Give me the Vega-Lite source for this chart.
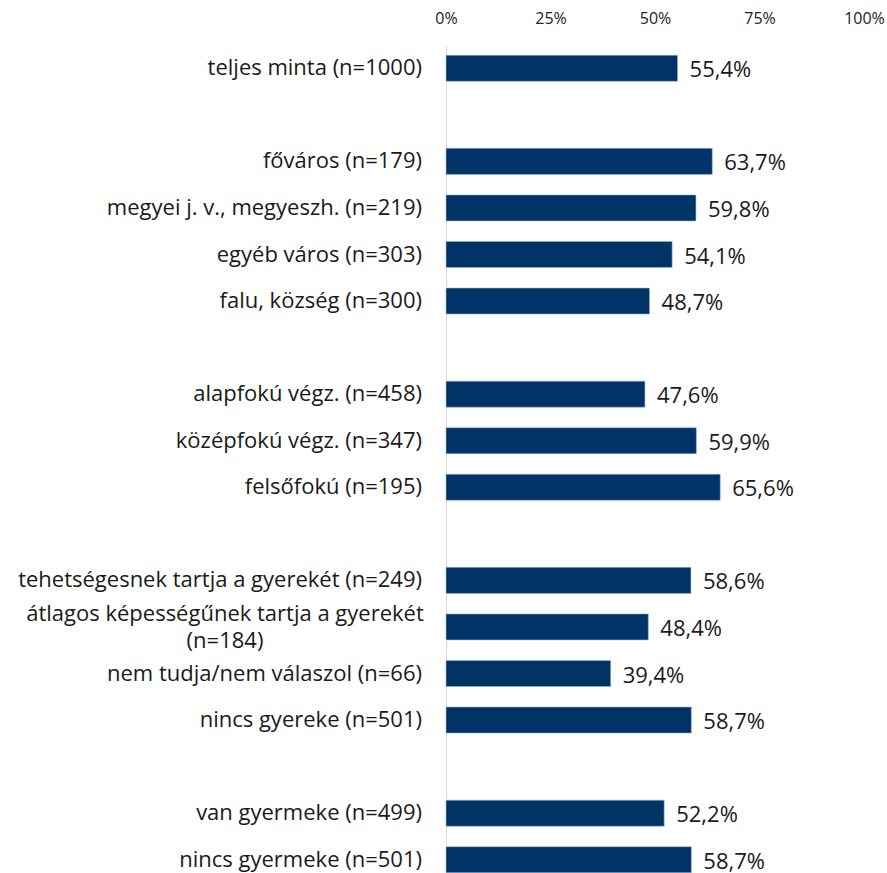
{
  "$schema": "https://vega.github.io/schema/vega-lite/v6.json",
  "autosize": {"type": "none"},
  "padding": {"top": 45, "left": 446, "right": 23, "bottom": 0},
  "width": 418,
  "height": 838,
  "background": "white",
  "config": {
    "view": {"stroke": null},
    "locale": {"number": {"decimal": ",", "thousands": " ", "grouping": [3], "currency": ["", " Ft"]}},
    "font": "Open Sans"
  },
  "data": {
    "values": [
      {"id": "r00", "label": "teljes minta (n=1000)", "value": 0.554},
      {"id": "r01", "label": "", "value": null},
      {"id": "r02", "label": "főváros (n=179)", "value": 0.637},
      {"id": "r03", "label": "megyei j. v., megyeszh. (n=219)", "value": 0.598},
      {"id": "r04", "label": "egyéb város (n=303)", "value": 0.541},
      {"id": "r05", "label": "falu, község (n=300)", "value": 0.487},
      {"id": "r06", "label": "", "value": null},
      {"id": "r07", "label": "alapfokú végz. (n=458)", "value": 0.476},
      {"id": "r08", "label": "középfokú végz. (n=347)", "value": 0.599},
      {"id": "r09", "label": "felsőfokú (n=195)", "value": 0.656},
      {"id": "r10", "label": "", "value": null},
      {"id": "r11", "label": "tehetségesnek tartja a gyerekét (n=249)", "value": 0.586},
      {"id": "r12", "label": "", "wrapped": ["átlagos képességűnek tartja a gyerekét", "(n=184)"], "value": 0.484},
      {"id": "r13", "label": "nem tudja/nem válaszol (n=66)", "value": 0.394},
      {"id": "r14", "label": "nincs gyereke (n=501)", "value": 0.587},
      {"id": "r15", "label": "", "value": null},
      {"id": "r16", "label": "van gyermeke (n=499)", "value": 0.522},
      {"id": "r17", "label": "nincs gyermeke (n=501)", "value": 0.587}
    ]
  },
  "encoding": {
    "y": {
      "field": "id",
      "type": "nominal",
      "sort": null,
      "scale": {
        "domain": ["r00","r01","r02","r03","r04","r05","r06","r07","r08","r09","r10","r11","r12","r13","r14","r15","r16","r17"],
        "paddingInner": 0.44, "paddingOuter": 0.22
      },
      "axis": {"labels": false, "ticks": false, "title": null, "domain": true, "domainColor": "#d9d9d9", "domainWidth": 1}
    }
  },
  "layer": [
    {
      "mark": {"type": "bar", "color": "#003466", "stroke": "#9db8d6", "strokeWidth": 0.6},
      "encoding": {
        "x": {
          "field": "value",
          "type": "quantitative",
          "scale": {"domain": [0, 1], "nice": false, "zero": true},
          "axis": {
            "orient": "top",
            "values": [0, 0.25, 0.5, 0.75, 1],
            "format": ".0%",
            "grid": false,
            "domain": false,
            "ticks": false,
            "title": null,
            "labelFlush": false,
            "labelOverlap": false,
            "labelPadding": 19,
            "labelFontSize": 16,
            "labelColor": "#222222",
            "labelFont": "Open Sans"
          }
        }
      }
    },
    {
      "mark": {"type": "text", "align": "left", "baseline": "middle", "dx": 12, "dy": 2, "fontSize": 22, "color": "#1a1a1a"},
      "encoding": {
        "x": {"field": "value", "type": "quantitative"},
        "text": {"field": "value", "type": "quantitative", "format": ".1%"}
      }
    },
    {
      "mark": {"type": "text", "align": "right", "baseline": "middle", "dx": -24, "fontSize": 22, "color": "#1a1a1a"},
      "encoding": {
        "x": {"datum": 0},
        "text": {"field": "label"}
      }
    },
    {
      "transform": [{"filter": "datum.wrapped != null"}],
      "mark": {"type": "text", "align": "center", "baseline": "middle", "dx": -221, "dy": -13, "fontSize": 22, "lineHeight": 27, "color": "#1a1a1a"},
      "encoding": {
        "x": {"datum": 0},
        "text": {"field": "wrapped"}
      }
    }
  ]
}
